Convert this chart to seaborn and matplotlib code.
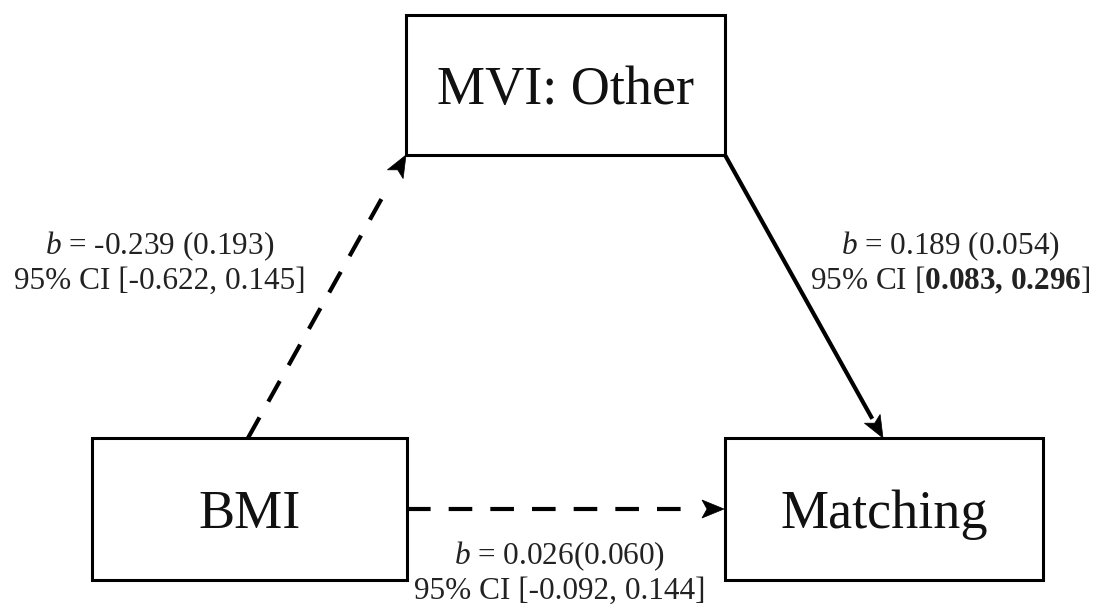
import matplotlib
matplotlib.use("Agg")
import matplotlib.pyplot as plt
from matplotlib.patches import Rectangle, Polygon
import seaborn as sns

# Path model: predictor -> mediator -> outcome, plus the direct path
nodes = ["BMI", "MVI: Other", "Matching"]
paths = [("BMI", "MVI: Other"), ("MVI: Other", "Matching"), ("BMI", "Matching")]
coef_b = [-0.239, 0.189, 0.026]
coef_se = [0.193, 0.054, 0.060]
ci_low = [-0.622, 0.083, -0.092]
ci_high = [0.145, 0.296, 0.144]
significant = [False, True, False]

sns.set_theme(style="white")
plt.rcParams["font.family"] = ["Liberation Serif", "DejaVu Serif"]
plt.rcParams["mathtext.fontset"] = "custom"
plt.rcParams["mathtext.rm"] = "Liberation Serif"
plt.rcParams["mathtext.it"] = "Liberation Serif:italic"
plt.rcParams["mathtext.bf"] = "Liberation Serif:bold"
plt.rcParams["lines.scale_dashes"] = False

fig = plt.figure(figsize=(11.1, 6.15), dpi=100)
ax = fig.add_axes([0, 0, 1, 1])
ax.set_xlim(0, 1110)
ax.set_ylim(615, 0)
ax.axis("off")

# box geometry (left, top, right, bottom)
boxes = {
    "MVI: Other": (406, 15, 725, 155),
    "BMI": (92, 438, 407, 580),
    "Matching": (725, 438, 1043, 580),
}
for name in nodes:
    l, t, r, b = boxes[name]
    ax.add_patch(Rectangle((l, t), r - l, b - t, fill=False,
                           edgecolor="black", lw=2.2, zorder=3))
    ax.text((l + r) / 2, (t + b) / 2 + 6, name, ha="center", va="center",
            fontsize=39, color="#111111")

# path endpoints
ends = {
    ("BMI", "MVI: Other"): ((248, 438), (406, 155)),
    ("MVI: Other", "Matching"): ((725, 155), (883, 438)),
    ("BMI", "Matching"): ((407, 509), (724, 509)),
}
label_pos = {
    ("BMI", "MVI: Other"): (160, 263),
    ("MVI: Other", "Matching"): (950, 263),
    ("BMI", "Matching"): (560, 573),
}

head_len = 22
head_half = 9
dash_on, dash_off = 17, 13          # points
px_per_pt = 100 / 72
for i, p in enumerate(paths):
    (x0, y0), (x1, y1) = ends[p]
    dx, dy = x1 - x0, y1 - y0
    length = (dx ** 2 + dy ** 2) ** 0.5
    ux, uy = dx / length, dy / length
    nx, ny = -uy, ux
    bx, by = x1 - ux * head_len, y1 - uy * head_len
    if significant[i]:
        ax.plot([x0, bx], [y0, by], color="black", lw=3, solid_capstyle="butt", zorder=2)
    else:
        # stop the dashed shaft at the end of a whole dash, short of the head
        on_px, period_px = dash_on * px_per_pt, (dash_on + dash_off) * px_per_pt
        avail = length - head_len - 6
        n = int((avail - on_px) // period_px)
        shaft = n * period_px + on_px
        ax.plot([x0, x0 + ux * shaft], [y0, y0 + uy * shaft], color="black", lw=3,
                dashes=(dash_on, dash_off), dash_capstyle="butt", zorder=2)
    ax.add_patch(Polygon([(x1, y1),
                          (bx + nx * head_half, by + ny * head_half),
                          (bx + ux * 5, by + uy * 5),
                          (bx - nx * head_half, by - ny * head_half)],
                         closed=True, facecolor="black", edgecolor="black",
                         lw=0.5, zorder=4))

    cx, cy = label_pos[p]
    sep = "" if p == ("BMI", "Matching") else " "
    line1 = rf"$\mathit{{b}}$ = {coef_b[i]:.3f}{sep}({coef_se[i]:.3f})"
    if significant[i]:
        line2 = rf"95% CI [$\mathbf{{{ci_low[i]:.3f}{{,}}\ {ci_high[i]:.3f}}}$]"
    else:
        line2 = f"95% CI [{ci_low[i]:.3f}, {ci_high[i]:.3f}]"
    ax.text(cx, cy - 17, line1, ha="center", va="center", fontsize=22.5, color="#222222")
    ax.text(cx, cy + 18, line2, ha="center", va="center", fontsize=22.5, color="#222222")

fig.savefig("out.png", dpi=100, facecolor="white")
